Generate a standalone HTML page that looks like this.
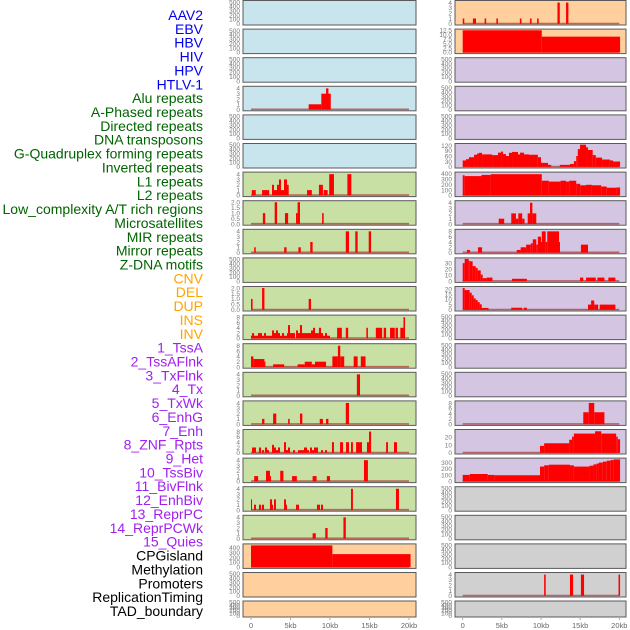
<!DOCTYPE html>
<html><head><meta charset="utf-8"><style>
html,body{margin:0;padding:0;background:#fff;}
svg{display:block;font-family:"Liberation Sans",sans-serif;}
</style></head><body>
<svg id="chart" width="630" height="630" viewBox="0 0 630 630" xmlns="http://www.w3.org/2000/svg"></svg>
<script>
const trackLabels = ["AAV2","EBV","HBV","HIV","HPV","HTLV-1","Alu repeats","A-Phased repeats","Directed repeats","DNA transposons","G-Quadruplex forming repeats","Inverted repeats","L1 repeats","L2 repeats","Low_complexity A/T rich regions","Microsatellites","MIR repeats","Mirror repeats","Z-DNA motifs","CNV","DEL","DUP","INS","INV","1_TssA","2_TssAFlnk","3_TxFlnk","4_Tx","5_TxWk","6_EnhG","7_Enh","8_ZNF_Rpts","9_Het","10_TssBiv","11_BivFlnk","12_EnhBiv","13_ReprPC","14_ReprPCWk","15_Quies","CPGisland","Methylation","Promoters","ReplicationTiming","TAD_boundary"];
const labelGroups = [6,13,5,15,5];
const groupColors = ["#0000ee","#006400","#ffa500","#a020f0","#000000"];

const xTicks = [0,5,10,15,20];
const xTickLabels = ["0","5kb","10kb","15kb","20kb"];

const leftBg = ["b","b","b","b","b","b","g","g","g","g","g","g","g","g","g","g","g","g","g","o","o","o"];
const rightBg = ["o","o","p","p","p","p","p","p","p","p","p","p","p","p","p","p","p","y","y","y","y","y"];
const leftYmax = [510,510,510,4.2,510,510,4.2,2.05,4.2,510,2.05,8.4,8.4,4.2,4.2,8.4,4.2,4.2,4.2,460,510,510];
const rightYmax = [4.2,12.6,510,510,510,126,410,4.2,8.4,37,21.5,510,510,510,8.4,29,355,510,510,510,4.2,510];

const T500=[0,100,200,300,400,500], T4=[0,1,2,3,4], T2=[0,0.5,1,1.5,2], T8=[0,2,4,6,8], T400=[0,100,200,300,400];
const leftTicks = [T500,T500,T500,T4,T500,T500,T4,T2,T4,T500,T2,T8,T8,T4,T4,T8,T4,T4,T4,T400,T500,T500];
const rightTicks = [T4,[0,2.5,5,7.5,10,12.5],T500,T500,T500,[0,30,60,90,120],T400,T4,T8,[0,10,20,30],[0,5,10,15,20],T500,T500,T500,T8,[0,10,20],[0,100,200,300],T500,T500,T500,T4,T500];

const bars_L3 = [[7.3,8.9,1],[8.9,10.1,3],[9.5,9.8,4]];
const bars_L6 = [[0.1,0.6,1],[1.4,2.3,1],[2.66,2.91,2],[2.91,3.29,1],[3.29,3.54,2],[3.54,3.8,3],[3.8,4.18,1],[4.18,4.56,3],[4.56,4.77,2],[7.1,7.7,1],[8.6,9.1,2],[9.2,9.7,1],[9.9,10.5,4],[12.2,12.7,4]];
const bars_L7 = [[1.5,1.8,1],[3.0,3.3,2],[4.3,4.7,1],[5.7,5.9,1],[5.9,6.2,2],[9.0,9.2,1]];
const bars_L8 = [[0.4,0.6,1],[4.2,4.5,1],[6.0,6.3,1],[7.5,7.8,2],[12.0,12.4,4],[13.2,13.5,4],[14.9,15.2,4]];
const bars_L10 = [[0,0.2,1],[1.4,1.7,2],[7.3,7.6,1]];
const bars_L11 = [[0,0.63,1],[0.13,0.38,2],[0.63,0.89,1],[0.89,1.39,2],[1.39,1.65,1],[1.65,1.9,2],[1.9,2.28,1],[2.28,2.66,1],[2.66,2.91,3],[2.91,3.16,2],[3.16,3.42,3],[3.42,3.67,2],[3.67,3.92,1],[3.92,4.18,2],[4.18,4.56,1],[4.56,4.94,2],[4.68,4.94,5],[4.94,5.57,2],[5.7,5.95,3],[5.95,6.2,2],[6.2,6.46,5],[6.46,6.84,2],[6.84,7.6,2],[7.6,7.85,3],[7.85,8.1,4],[8.1,8.6,2],[8.6,8.86,4],[8.86,9.11,2],[9.11,9.37,1],[9.37,9.62,2],[9.62,10.0,1],[10.9,11.5,4],[12.0,12.3,4],[14.6,14.8,4],[15.8,16.6,4],[16.8,17.1,4],[17.6,18.2,4],[18.3,18.6,4],[18.9,19.3,4],[19.3,19.5,8]];
const bars_L12 = [[0,0.3,4],[0.3,1.7,3],[1.7,1.8,2],[2.8,4.2,1],[5.9,6.8,1],[6.8,7.7,2],[7.7,8.1,1],[8.1,9.5,2],[10.3,11.0,4],[11.0,11.3,8],[11.3,11.8,4],[13.0,13.5,4],[13.9,14.5,4]];
const bars_L13 = [[13.4,13.8,4]];
const bars_L14 = [[1.4,1.7,1],[2.8,3.2,2],[4.7,4.9,1],[6.2,6.5,2],[8.7,9.1,1],[9.5,9.8,1],[12.0,12.4,4]];
const bars_L15 = [[0.13,0.63,2],[1.01,1.27,2],[1.39,1.65,1],[1.77,2.03,2],[2.03,2.28,1],[2.66,2.91,3],[2.91,3.16,2],[3.16,3.42,1],[3.42,3.67,2],[4.18,4.43,4],[4.43,4.68,1],[4.68,4.94,2],[5.32,5.57,1],[5.95,6.71,1],[6.71,7.09,2],[7.09,7.34,1],[7.47,7.72,2],[7.72,7.97,1],[7.97,8.48,2],[8.86,9.11,1],[9.37,9.62,1],[10.25,10.5,4],[11.27,11.65,4],[12.03,12.4,4],[12.66,12.9,4],[13.3,13.67,4],[13.67,14.05,4],[14.68,14.94,4],[14.94,15.2,8],[17.1,17.34,4],[18.1,18.48,4]];
const bars_L16 = [[0.4,0.9,1],[1.9,2.4,2],[2.4,2.5,1],[3.7,4.1,2],[5.2,5.8,1],[7.8,8.3,1],[9.6,10.0,1],[14.3,14.8,4]];
const bars_L17 = [[0,0.13,2],[0.38,0.63,1],[1.01,1.27,1],[1.39,1.65,1],[2.4,2.66,2],[2.66,2.78,1],[2.91,3.16,2],[4.18,4.43,2],[4.43,4.56,1],[5.7,6.08,1],[8.35,8.73,1],[8.86,9.11,1],[12.66,12.9,4],[18.35,18.73,4]];
const bars_L18 = [[7.8,8.2,1],[9.4,9.7,2],[11.7,12.0,4]];
const bars_L19 = [[0,10.3,450],[10.3,20.2,270]];

const bars_R0 = [[0,0.2,1],[1.3,1.7,1],[2.8,3.0,1],[4.3,4.5,1],[7.3,7.5,1],[8.6,8.8,1],[9.5,9.7,1],[12.1,12.4,4],[13.2,13.5,4]];
const bars_R1 = [[0,10.1,12.5],[10.1,20.1,8.9]];
const bars_R5 = [[0,0.42,36],[0.42,0.8,43],[0.8,1.45,54],[1.45,1.83,68],[1.83,2.08,75],[2.08,2.47,79],[2.47,3.75,70],[3.75,4.51,66],[4.51,4.9,80],[4.9,5.15,86],[5.15,5.53,72],[5.53,5.91,61],[5.91,6.3,79],[6.3,7.06,84],[7.06,7.32,70],[7.32,7.83,80],[7.83,8.47,70],[8.47,9.6,68],[9.6,10.0,54],[10.0,10.25,23],[10.25,10.9,22],[10.9,11.3,11],[12.4,13.7,11],[13.7,14.2,16],[14.2,14.5,32],[14.5,14.7,61],[14.7,14.98,100],[14.98,15.75,125],[15.75,16.0,110],[16.0,16.6,95],[16.6,17.0,66],[17.0,17.8,52],[17.8,18.8,41],[18.8,19.2,36],[19.2,20.1,30]];
const bars_R6 = [[0,0.25,370],[0.25,2.4,355],[2.4,3.6,377],[3.6,10.1,390],[10.1,11.0,270],[11.0,12.5,254],[12.5,13.2,270],[13.2,13.6,254],[13.6,14.5,270],[14.5,15.0,214],[15.0,15.75,186],[15.75,16.5,195],[16.5,17.7,186],[17.7,18.4,163],[18.4,19.6,141],[19.6,20.1,146]];
const bars_R7 = [[4.6,5.3,1],[6.2,6.8,2],[6.8,7.1,1],[7.1,7.6,2],[7.6,7.9,1],[8.3,8.6,2],[8.6,8.9,4],[8.9,9.4,2]];
const bars_R8 = [[0.55,0.94,1],[1.95,2.47,2],[6.9,7.4,1],[7.4,8.1,2],[8.1,8.7,3],[8.7,8.95,3.5],[8.95,9.4,5],[9.4,9.6,3],[9.6,10.0,6],[10.0,10.1,4],[10.1,10.6,8],[10.6,10.8,4],[10.8,12.3,8],[12.3,12.4,4],[15.1,16.0,3]];
const bars_R9 = [[0,0.25,30],[0.25,0.76,37],[0.76,0.89,34],[0.89,1.27,33],[1.27,1.66,25],[1.66,1.91,22],[1.91,2.3,18],[2.3,2.55,11],[2.55,3.06,5],[3.06,3.8,6],[6.3,8.2,4],[14.98,15.4,6],[15.75,17.0,6],[17.2,18.1,6],[18.6,19.5,6]];
const bars_R10 = [[0,0.25,21],[0.25,0.89,19],[0.89,1.15,16.5],[1.15,1.4,14],[1.4,1.66,11],[1.66,1.91,9.4],[1.91,2.17,7.4],[2.17,2.43,5.3],[2.43,3.3,1.8],[6.2,7.6,2],[7.8,8.2,2],[16.0,16.5,5],[16.4,16.8,9],[16.8,17.3,5],[17.5,19.5,5]];
const bars_R14 = [[15.4,16.1,4.5],[16.1,16.8,8],[16.8,18.1,4.5]];
const bars_R15 = [[9.87,10.4,9],[10.4,13.6,12.4],[13.6,13.96,17],[13.96,14.2,21],[14.2,16.9,25],[16.9,17.7,28],[17.7,19.6,25],[19.6,19.8,21],[19.8,20.1,17.6]];
const bars_R16 = [[0,0.9,103],[0.9,3.2,118],[3.2,4.1,103],[4.1,9.87,98],[9.87,10.4,236],[10.4,11.0,256],[11.0,13.7,266],[13.7,14.2,256],[14.2,16.2,236],[16.2,16.7,250],[16.7,17.1,271],[17.1,17.4,285],[17.4,17.9,300],[17.9,18.4,315],[18.4,18.9,330],[18.9,19.3,340],[19.3,20.1,350]];
const bars_R20 = [[10.4,10.6,4],[13.7,14.1,4],[15.1,15.5,4],[19.9,20.1,4]];

const leftBars = {3:bars_L3,6:bars_L6,7:bars_L7,8:bars_L8,10:bars_L10,11:bars_L11,12:bars_L12,13:bars_L13,14:bars_L14,15:bars_L15,16:bars_L16,17:bars_L17,18:bars_L18,19:bars_L19};
const rightBars = {0:bars_R0,1:bars_R1,5:bars_R5,6:bars_R6,7:bars_R7,8:bars_R8,9:bars_R9,10:bars_R10,14:bars_R14,15:bars_R15,16:bars_R16,20:bars_R20};

const NS = "http://www.w3.org/2000/svg";
const svg = document.getElementById("chart");
const bgColors = {b:"#c8e4ec",g:"#c8e0a4",o:"#ffd09e",p:"#d4c5e2",y:"#d0d0d0"};
function mk(tag, attrs, parent){const e=document.createElementNS(NS,tag);for(const k in attrs)e.setAttribute(k,attrs[k]);(parent||svg).appendChild(e);return e;}

// labels
let li=0;
labelGroups.forEach((n,gi)=>{for(let j=0;j<n;j++){
  const t=mk("text",{x:203,y:15+li*13.86+5,"text-anchor":"end","font-size":"14",fill:groupColors[gi]});
  t.textContent=trackLabels[li];
  
  
  li++;}});

const cols = [
  {px0:243,px1:416,d0:251,d1:409,bg:leftBg,ymax:leftYmax,ticks:leftTicks,bars:leftBars,name:"left"},
  {px0:455,px1:626,d0:462.7,d1:619.3,bg:rightBg,ymax:rightYmax,ticks:rightTicks,bars:rightBars,name:"right"}
];
function fmt(v,ticks){const dec=ticks.some(t=>t%1!==0);return dec?v.toFixed(1):String(v);}

cols.forEach(c=>{
  const xs = kb => c.d0 + (c.d1-c.d0)*kb/20;
  for(let r=0;r<22;r++){
    const top = r<21 ? r*28.6+0.5 : 601;
    const h = r<21 ? 24.5 : 16;
    const g=mk("g",{});
    
    
    const bg=mk("rect",{x:c.px0,y:top,width:c.px1-c.px0,height:h,fill:bgColors[c.bg[r]],stroke:"none"},g);
    
    
    const yb=top+h-1.2, yt=top+1, ym=c.ymax[r];
    const ys = v => yb-(yb-yt)*v/ym;
    const bars=c.bars[r];
    if(bars){
      mk("line",{x1:xs(0),x2:xs(20),y1:yb-0.3,y2:yb-0.3,stroke:"rgba(170,40,40,0.65)","stroke-width":"1.6"},g);
      bars.forEach(b=>{
        const x0=xs(b[0]),x1=xs(b[1]),y=ys(b[2]);
        const rc=mk("rect",{x:x0,y:y,width:Math.max(x1-x0,1),height:yb-y,fill:"#ff0000"},g);
        
        
      });
    }
    mk("rect",{x:c.px0,y:top,width:c.px1-c.px0,height:h,fill:"none",stroke:"#5a5a5a","stroke-width":"1"},g);
    c.ticks[r].forEach(t=>{
      const tl=mk("text",{x:c.px0-3,y:ys(t)+2.3,"text-anchor":"end","font-size":"6.5",fill:"#777"},g);
      tl.textContent=fmt(t,c.ticks[r]);
      
      
    });
  }
  xTicks.forEach((k,i)=>{
    mk("line",{x1:xs(k),x2:xs(k),y1:618,y2:620,stroke:"#999","stroke-width":"0.8"});
    const t=mk("text",{x:xs(k),y:628,"text-anchor":"middle","font-size":"7.5",fill:"#666"});
    t.textContent=xTickLabels[i];
    
    
  });
});
</script>
</body></html>
